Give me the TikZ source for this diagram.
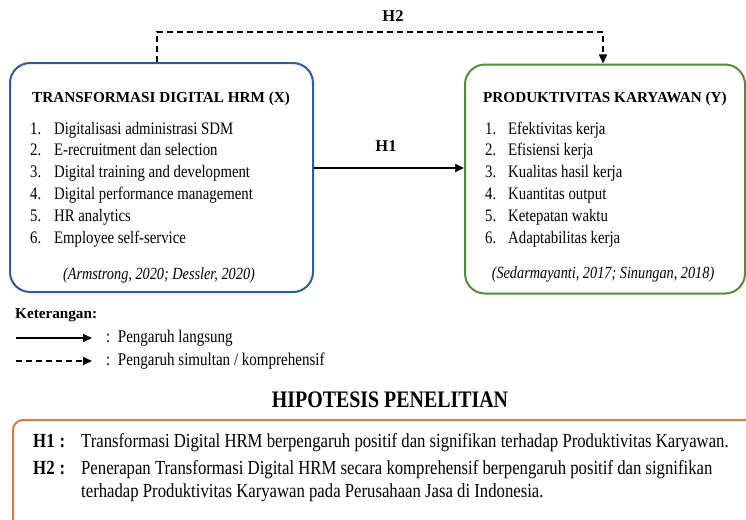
\documentclass[tikz,border=0pt]{standalone}
\usepackage{fontspec}
\setmainfont{Liberation Serif}
\newfontfamily\narrowfont[FakeStretch=0.84]{Liberation Serif}
\usetikzlibrary{arrows.meta}
\definecolor{xblue}{RGB}{45,90,160}
\definecolor{ygreen}{RGB}{85,140,60}
\definecolor{horange}{RGB}{210,125,65}
\begin{document}
\begin{tikzpicture}[x=1pt,y=-1pt,
    varbox/.style={draw,line width=2pt,rounded corners=20pt,minimum width=#1,minimum height=229pt,inner sep=0pt},
    vartitle/.style={anchor=west,inner sep=0pt,font=\fontsize{15.2}{18}\selectfont\bfseries},
    itemtxt/.style={anchor=base west,inner sep=0pt,font=\narrowfont\fontsize{17.6}{20}\selectfont},
    citetxt/.style={inner sep=0pt,font=\narrowfont\fontsize{17}{20}\selectfont\itshape},
    hlabel/.style={inner sep=0pt,font=\fontsize{16.5}{20}\selectfont\bfseries},
    legtxt/.style={anchor=west,inner sep=0pt,font=\narrowfont\fontsize{17.9}{20}\selectfont},
    hypkey/.style={anchor=base west,inner sep=0pt,font=\narrowfont\fontsize{20}{22}\selectfont\bfseries},
    hyptxt/.style={anchor=base west,inner sep=0pt,font=\narrowfont\fontsize{19.9}{22}\selectfont},
    arr/.style={-{Triangle[length=9pt,width=8pt]},line width=1.6pt},
    dasharr/.style={arr,dash pattern=on 6pt off 4pt}]
  \useasboundingbox (0,0) rectangle (746,519);
  \clip (0,0) rectangle (746,519);

  % variable boxes
  \node[varbox=303pt,xblue] (xbox) at (161.5,177.5) {};
  \node[varbox=280pt,ygreen] (ybox) at (605,179) {};

  \node[vartitle] (xtitle) at (32,99) {TRANSFORMASI DIGITAL HRM (X)};
  \foreach \txt [count=\i] in {Digitalisasi administrasi SDM,E-recruitment dan selection,
      Digital training and development,Digital performance management,HR analytics,
      Employee self-service}
    {\node[itemtxt] (xnum\i) at (30,134+21.8*\i-21.8) {\i.};
     \node[itemtxt] (xitem\i) at (54,134+21.8*\i-21.8) {\txt};}
  \node[citetxt] (xcite) at (159,275) {(Armstrong, 2020; Dessler, 2020)};

  \node[vartitle] (ytitle) at (483,99) {PRODUKTIVITAS KARYAWAN (Y)};
  \foreach \txt [count=\i] in {Efektivitas kerja,Efisiensi kerja,Kualitas hasil kerja,
      Kuantitas output,Ketepatan waktu,Adaptabilitas kerja}
    {\node[itemtxt] (ynum\i) at (485,134+21.9*\i-21.9) {\i.};
     \node[itemtxt] (yitem\i) at (508,134+21.9*\i-21.9) {\txt};}
  \node[citetxt] (ycite) at (603,274) {(Sedarmayanti, 2017; Sinungan, 2018)};

  % connectors
  \coordinate (h1y) at (0,168);
  \coordinate (h2y) at (0,32);
  \draw[arr] (xbox.east |- h1y) -- (ybox.west |- h1y);
  \node[hlabel] (h1lab) at (386,146) {H1};
  \draw[dasharr] ([xshift=-4.5pt]xbox.north) -- ([xshift=-4.5pt]xbox.north |- h2y)
    -| ([xshift=-2pt]ybox.north);
  \node[hlabel] (h2lab) at (393,16) {H2};

  % legend
  \node[anchor=west,inner sep=0pt,font=\fontsize{15.2}{18}\selectfont\bfseries] (ket) at (15,315) {Keterangan:};
  \coordinate (lg1a) at (16,338);
  \coordinate (lg1b) at (92,338);
  \coordinate (lg2a) at (16,361);
  \coordinate (lg2b) at (92,361);
  \draw[arr] (lg1a) -- (lg1b);
  \draw[dasharr] (lg2a) -- (lg2b);
  \node[legtxt] (lg1txt) at (106,338) {:\ \ Pengaruh langsung};
  \node[legtxt] (lg2txt) at (106,361) {:\ \ Pengaruh simultan / komprehensif};

  % hypotheses
  \node[inner sep=0pt,font=\narrowfont\fontsize{23.7}{26}\selectfont\bfseries] (hiptitle) at (390,400) {HIPOTESIS PENELITIAN};
  \draw[horange,line width=2pt,rounded corners=10pt] (13,420) rectangle (790,570);
  \node[hypkey] (h1key) at (33,447.5) {H1\hspace{5pt}:};
  \node[hyptxt] (h1txt) at (81,447.5) {Transformasi Digital HRM berpengaruh positif dan signifikan terhadap Produktivitas Karyawan.};
  \node[hypkey] (h2key) at (33,474.5) {H2\hspace{5pt}:};
  \node[hyptxt] (h2txt) at (81,474.5) {Penerapan Transformasi Digital HRM secara komprehensif berpengaruh positif dan signifikan};
  \node[hyptxt] (h2txtb) at (81,497.5) {terhadap Produktivitas Karyawan pada Perusahaan Jasa di Indonesia.};
\end{tikzpicture}
\end{document}
